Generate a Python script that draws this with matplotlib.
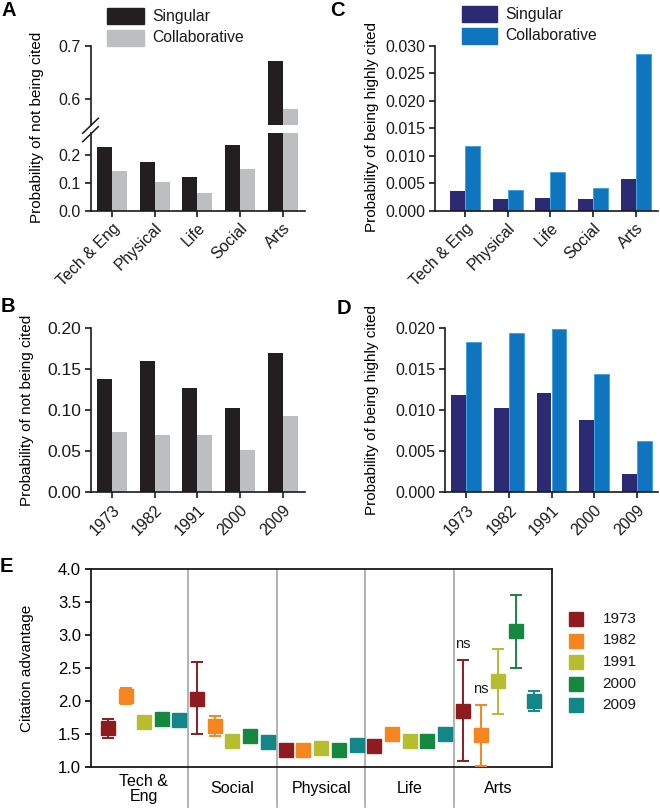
import matplotlib
matplotlib.use("Agg")
import matplotlib.pyplot as plt
import numpy as np
from matplotlib.patches import Rectangle
from matplotlib.lines import Line2D

plt.rcParams['font.family'] = ['Liberation Sans', 'DejaVu Sans']

# ---------------- data ----------------
fields = ["Tech & Eng", "Physical", "Life", "Social", "Arts"]
A_single = [0.230, 0.176, 0.120, 0.236, 0.672]
A_collab = [0.143, 0.105, 0.063, 0.149, 0.581]
C_single = [0.0036, 0.0021, 0.0023, 0.0022, 0.0058]
C_collab = [0.0117, 0.0038, 0.0071, 0.0041, 0.0285]

years = ["1973", "1982", "1991", "2000", "2009"]
B_single = [0.138, 0.160, 0.127, 0.103, 0.170]
B_collab = [0.073, 0.070, 0.070, 0.051, 0.093]
D_single = [0.0118, 0.0103, 0.0121, 0.0088, 0.0022]
D_collab = [0.0183, 0.0193, 0.0198, 0.0144, 0.0062]

E_groups = ["Tech &\nEng", "Social", "Physical", "Life", "Arts"]
E_adv = [[1.60, 2.08, 1.68, 1.73, 1.71],
         [2.04, 1.63, 1.40, 1.47, 1.39],
         [1.26, 1.26, 1.30, 1.26, 1.34],
         [1.32, 1.51, 1.40, 1.40, 1.50],
         [1.86, 1.49, 2.31, 3.06, 2.00]]
E_lo = [[1.44, 1.96, 1.63, 1.69, 1.67],
        [1.50, 1.48, 1.31, 1.43, 1.35],
        [1.23, 1.23, 1.27, 1.23, 1.31],
        [1.28, 1.47, 1.36, 1.36, 1.46],
        [1.10, 1.02, 1.81, 2.51, 1.85]]
E_hi = [[1.73, 2.20, 1.73, 1.77, 1.75],
        [2.59, 1.78, 1.49, 1.51, 1.43],
        [1.29, 1.29, 1.33, 1.29, 1.37],
        [1.36, 1.55, 1.44, 1.44, 1.54],
        [2.63, 1.95, 2.79, 3.61, 2.16]]
E_ns = [(4, 0), (4, 1)]  # (group, year) flagged "ns"

# ---------------- style ----------------
BLACK = '#231f20'
GRAY = '#bcbec0'
NAVY = '#2b2a72'
BLUE = '#0f75be'
BLUE_EDGE = '#3aa0e0'
YEAR_COLORS = ['#8e1b1e', '#f5851f', '#b6bd2e', '#16873f', '#138788']
TICK_FS = 11.5
XT_FS = 11.5
LAB_FS = 11
LEG_FS = 11.3

W, H = 660, 808
fig = plt.figure(figsize=(6.6, 8.08), dpi=100)


def frect(left, top, right, bottom):
    return [left / W, 1 - bottom / H, (right - left) / W, (bottom - top) / H]


def style_ax(ax, left=True, bottom=True):
    for s in ['top', 'right']:
        ax.spines[s].set_visible(False)
    ax.spines['left'].set_visible(left)
    ax.spines['bottom'].set_visible(bottom)
    for s in ['left', 'bottom']:
        ax.spines[s].set_linewidth(1.2)
        ax.spines[s].set_color('#1a1a1a')
    ax.tick_params(direction='out', length=4, width=1.2, labelsize=TICK_FS,
                   colors='#1a1a1a', pad=3)


def rot_labels(ax, labels):
    ax.set_xticks(np.arange(len(labels)))
    ax.set_xticklabels(labels, rotation=45, ha='right', rotation_mode='anchor',
                       fontsize=XT_FS)


bw = 0.35
x5 = np.arange(5)

# ---------------- Panel A (broken axis) ----------------
axA_lo = fig.add_axes(frect(90.7, 133, 305, 210.7))
axA_hi = fig.add_axes(frect(90.7, 45.7, 305, 125))
for ax in (axA_lo, axA_hi):
    ax.bar(x5 - bw / 2, A_single, bw, color=BLACK)
    ax.bar(x5 + bw / 2, A_collab, bw, color=GRAY)
    ax.set_xlim(-0.5, 4.52)
axA_lo.set_ylim(0, 0.2805)
axA_lo.set_yticks([0.0, 0.1, 0.2])
axA_lo.set_yticklabels(['0.0', '0.1', '0.2'])
axA_hi.set_ylim(0.5504, 0.7)
axA_hi.set_yticks([0.6, 0.7])
axA_hi.set_yticklabels(['0.6', '0.7'])
style_ax(axA_lo)
style_ax(axA_hi, bottom=False)
axA_hi.set_xticks([])
rot_labels(axA_lo, fields)
# break marks
for yb in (133.3, 141.7):
    fig.add_artist(Line2D([82.7 / W, 98.3 / W], [1 - yb / H, 1 - (yb - 15) / H],
                          color='#1a1a1a', lw=1.1))

# ---------------- Panel C ----------------
axC = fig.add_axes(frect(435, 45.7, 658, 210.7))
axC.bar(x5 - bw / 2, C_single, bw, color=NAVY)
axC.bar(x5 + bw / 2, C_collab, bw, color=BLUE, edgecolor=BLUE_EDGE, linewidth=0.6)
axC.set_xlim(-0.7, 4.52)
axC.set_ylim(0, 0.030)
axC.set_yticks(np.arange(0, 0.0301, 0.005))
axC.set_yticklabels([f'{v:.3f}' for v in np.arange(0, 0.0301, 0.005)])
style_ax(axC)
rot_labels(axC, fields)

# ---------------- Panel B ----------------
axB = fig.add_axes(frect(90.7, 328, 305, 492.3))
axB.bar(x5 - bw / 2, B_single, bw, color=BLACK)
axB.bar(x5 + bw / 2, B_collab, bw, color=GRAY)
axB.set_xlim(-0.5, 4.52)
axB.set_ylim(0, 0.20)
axB.set_yticks(np.arange(0, 0.201, 0.05))
axB.set_yticklabels([f'{v:.2f}' for v in np.arange(0, 0.201, 0.05)])
style_ax(axB)
axB.tick_params(axis='y', labelsize=12.5)
rot_labels(axB, years)

# ---------------- Panel D ----------------
axD = fig.add_axes(frect(445, 327.7, 658, 492.3))
axD.bar(x5 - bw / 2, D_single, bw, color=NAVY)
axD.bar(x5 + bw / 2, D_collab, bw, color=BLUE, edgecolor=BLUE_EDGE, linewidth=0.6)
axD.set_xlim(-0.5, 4.5)
axD.set_ylim(0, 0.020)
axD.set_yticks(np.arange(0, 0.0201, 0.005))
axD.set_yticklabels([f'{v:.3f}' for v in np.arange(0, 0.0201, 0.005)])
style_ax(axD)
rot_labels(axD, years)

# ---------------- Panel E ----------------
axE = fig.add_axes(frect(90.7, 569.3, 551.5, 767.3))
axE.set_xlim(-1, 25)
axE.set_ylim(1.0, 4.0)
for g in range(5):
    for j in range(5):
        xp = g * 5 + j
        v = E_adv[g][j]
        axE.errorbar([xp], [v], yerr=[[v - E_lo[g][j]], [E_hi[g][j] - v]],
                     fmt='s', color=YEAR_COLORS[j], ms=9.5, mec=YEAR_COLORS[j],
                     capsize=4.5, elinewidth=1.4, capthick=1.4, zorder=3,
                     clip_on=False)
for g, j in E_ns:
    axE.annotate('ns', (g * 5 + j, E_hi[g][j]), xytext=(0, 6),
                 textcoords='offset points', ha='center', va='bottom',
                 fontsize=10.5, color='#1a1a1a')
ybot = 1.0 - (807 - 767.3) / 66.0
for k in range(1, 5):
    xs = 5 * k - 0.5
    axE.plot([xs, xs], [4.0, ybot], color='#a6a6a6', lw=1.2, clip_on=False, zorder=1)
for s in ['top', 'right', 'left', 'bottom']:
    axE.spines[s].set_linewidth(1.3)
    axE.spines[s].set_color('#1a1a1a')
axE.set_yticks(np.arange(1.0, 4.01, 0.5))
axE.set_yticklabels([f'{v:.1f}' for v in np.arange(1.0, 4.01, 0.5)])
axE.tick_params(axis='y', direction='out', length=4, width=1.2, labelsize=12, pad=3)
axE.set_xticks([g * 5 + 2 for g in range(5)])
axE.set_xticklabels(E_groups, fontsize=11.5, va='center', linespacing=1.0)
axE.tick_params(axis='x', length=0, pad=15.6)

# E legend
for j, yr in enumerate(years):
    yy = 1 - (619 + j * 21.5) / H
    fig.add_artist(Line2D([575.5 / W], [yy], marker='s', ms=9.5, color=YEAR_COLORS[j],
                          linestyle='none'))
    fig.text(602.7 / W, yy, yr, fontsize=11, va='center', ha='left', color='#1a1a1a')

# ---------------- legends A & C ----------------
def patch_legend(x0, x1, text_x, rows, colors, labels):
    for (yt, yb), c, lab in zip(rows, colors, labels):
        fig.add_artist(Rectangle((x0 / W, 1 - yb / H), (x1 - x0) / W, (yb - yt) / H,
                                 transform=fig.transFigure, color=c))
        fig.text(text_x / W, 1 - (yt + yb) / 2 / H, lab, fontsize=LEG_FS,
                 va='center', ha='left', color='#1a1a1a')

patch_legend(107, 144, 152.7, [(8, 24), (30, 46)], [BLACK, GRAY],
             ['Singular', 'Collaborative'])
patch_legend(461.7, 496.7, 505, [(6, 22), (28, 44)], [NAVY, BLUE],
             ['Singular', 'Collaborative'])

# ---------------- y labels ----------------
fig.text(37 / W, 1 - 127 / H, 'Probability of not being cited', rotation=90,
         ha='center', va='center', fontsize=LAB_FS)
fig.text(27.5 / W, 1 - 410 / H, 'Probability of not being cited', rotation=90,
         ha='center', va='center', fontsize=LAB_FS)
fig.text(371.7 / W, 1 - 127 / H, 'Probability of being highly cited', rotation=90,
         ha='center', va='center', fontsize=LAB_FS)
fig.text(371.7 / W, 1 - 410 / H, 'Probability of being highly cited', rotation=90,
         ha='center', va='center', fontsize=LAB_FS)
fig.text(27 / W, 1 - 668 / H, 'Citation advantage', rotation=90,
         ha='center', va='center', fontsize=LAB_FS)

# ---------------- panel letters ----------------
for lab, x, y in [('A', 1, 11), ('C', 330, 11), ('B', 1, 307), ('D', 337, 308), ('E', 0, 567)]:
    fig.text(x / W, 1 - y / H, lab, fontsize=14.5, fontweight='bold', ha='left', va='center')

fig.savefig('out.png', dpi=100)
